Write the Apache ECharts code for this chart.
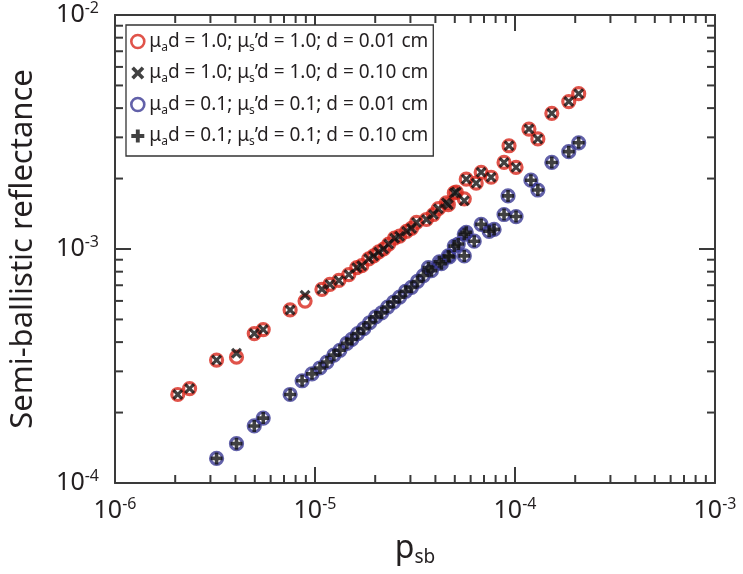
<!DOCTYPE html>
<html><head><meta charset="utf-8">
<script src="https://cdn.jsdelivr.net/npm/echarts@6/dist/echarts.min.js"></script>
<style>html,body{margin:0;padding:0;background:#fff}#c{width:743px;height:574px}</style>
</head><body><div id="c"></div>
<script>
// ---- data ----
const xExponents = [-6, -5, -4, -3];
const yExponents = [-4, -3, -2];
const xMinorTicks = [2e-6,3e-6,4e-6,5e-6,6e-6,7e-6,8e-6,9e-6,2e-5,3e-5,4e-5,5e-5,6e-5,7e-5,8e-5,9e-5,2e-4,3e-4,4e-4,5e-4,6e-4,7e-4,8e-4,9e-4];
const yMinorTicks = [2e-4,3e-4,4e-4,5e-4,6e-4,7e-4,8e-4,9e-4,2e-3,3e-3,4e-3,5e-3,6e-3,7e-3,8e-3,9e-3];

const muaD = ['1.0', '1.0', '0.1', '0.1'];
const musD = ['1.0', '1.0', '0.1', '0.1'];
const thick = ['0.01', '0.10', '0.01', '0.10'];

const highX = [2.06e-6, 2.36e-6, 3.22e-6, 4.05e-6, 4.97e-6, 5.51e-6, 7.51e-6, 8.92e-6, 1.083e-5, 1.187e-5, 1.317e-5, 1.476e-5, 1.618e-5, 1.713e-5, 1.856e-5, 1.965e-5, 2.082e-5, 2.204e-5, 2.335e-5, 2.500e-5, 2.648e-5, 2.869e-5, 3.038e-5, 3.217e-5, 3.608e-5, 3.909e-5, 4.140e-5, 4.537e-5, 4.642e-5, 4.972e-5, 5.087e-5, 5.577e-5, 5.706e-5, 6.397e-5, 6.773e-5, 7.596e-5, 8.815e-5, 9.335e-5, 1.012e-4, 1.174e-4, 1.301e-4, 1.528e-4, 1.857e-4, 2.082e-4];
const highThinY = [2.389e-4, 2.532e-4, 3.351e-4, 3.450e-4, 4.352e-4, 4.524e-4, 5.489e-4, 5.989e-4, 6.725e-4, 7.058e-4, 7.337e-4, 7.778e-4, 8.323e-4, 8.485e-4, 9.078e-4, 9.345e-4, 9.714e-4, 1.000e-3, 1.050e-3, 1.112e-3, 1.134e-3, 1.190e-3, 1.225e-3, 1.299e-3, 1.337e-3, 1.404e-3, 1.487e-3, 1.576e-3, 1.546e-3, 1.736e-3, 1.752e-3, 1.638e-3, 1.988e-3, 1.912e-3, 2.127e-3, 2.026e-3, 2.343e-3, 2.762e-3, 2.233e-3, 3.255e-3, 2.955e-3, 3.800e-3, 4.268e-3, 4.612e-3];
const highThickY = [2.389e-4, 2.532e-4, 3.351e-4, 3.586e-4, 4.352e-4, 4.524e-4, 5.489e-4, 6.347e-4, 6.725e-4, 7.058e-4, 7.337e-4, 7.778e-4, 8.323e-4, 8.485e-4, 9.078e-4, 9.345e-4, 9.714e-4, 1.000e-3, 1.050e-3, 1.112e-3, 1.134e-3, 1.190e-3, 1.225e-3, 1.299e-3, 1.337e-3, 1.404e-3, 1.487e-3, 1.576e-3, 1.546e-3, 1.736e-3, 1.752e-3, 1.607e-3, 1.988e-3, 1.912e-3, 2.127e-3, 2.026e-3, 2.343e-3, 2.762e-3, 2.233e-3, 3.255e-3, 2.955e-3, 3.800e-3, 4.268e-3, 4.612e-3];

const lowX = [3.22e-6, 4.05e-6, 4.97e-6, 5.51e-6, 7.51e-6, 8.62e-6, 9.66e-6, 1.059e-5, 1.147e-5, 1.243e-5, 1.332e-5, 1.443e-5, 1.528e-5, 1.636e-5, 1.753e-5, 1.877e-5, 2.011e-5, 2.154e-5, 2.308e-5, 2.472e-5, 2.648e-5, 2.836e-5, 3.038e-5, 3.254e-5, 3.486e-5, 3.692e-5, 3.821e-5, 4.188e-5, 4.284e-5, 4.642e-5, 4.695e-5, 4.972e-5, 5.205e-5, 5.577e-5, 5.577e-5, 5.706e-5, 6.252e-5, 6.773e-5, 7.423e-5, 7.861e-5, 8.815e-5, 9.230e-5, 1.012e-4, 1.201e-4, 1.301e-4, 1.528e-4, 1.857e-4, 2.082e-4];
const lowThinY = [1.274e-4, 1.473e-4, 1.753e-4, 1.894e-4, 2.389e-4, 2.735e-4, 2.927e-4, 3.101e-4, 3.287e-4, 3.518e-4, 3.692e-4, 3.951e-4, 4.107e-4, 4.352e-4, 4.567e-4, 4.840e-4, 5.129e-4, 5.332e-4, 5.650e-4, 5.932e-4, 6.226e-4, 6.597e-4, 6.858e-4, 7.266e-4, 7.702e-4, 8.323e-4, 8.082e-4, 8.818e-4, 8.650e-4, 9.345e-4, 9.256e-4, 1.029e-3, 1.050e-3, 9.345e-4, 1.156e-3, 1.179e-3, 1.080e-3, 1.274e-3, 1.190e-3, 1.213e-3, 1.404e-3, 1.686e-3, 1.376e-3, 1.968e-3, 1.787e-3, 2.343e-3, 2.606e-3, 2.843e-3];
const lowThickY = lowThinY.slice();

// ---- styles ----
const F = 'Noto Sans';
const TXT = '#231f20';
const AX = '#3a3a3a';
const RED = '#d8281d';
const BLUE = '#3b3a94';
const PLUS = 'path://M3.5,0H6.5V3.5H10V6.5H6.5V10H3.5V6.5H0V3.5H3.5Z';
const CROSS = 'path://M0,2L2,0L5,3L8,0L10,2L7,5L10,8L8,10L5,7L2,10L0,8L3,5Z';
const X_MIN = 1e-6, X_MAX = 1e-3, Y_MIN = 1e-4, Y_MAX = 1e-2;

const names = muaD.map((m, i) => 'mua ' + m + ' mus ' + musD[i] + ' d ' + thick[i]);
function legendText(i) {
  return '{t|\u03bc}{s|a}{t|d = ' + muaD[i] + '; \u03bc}{s|s}{t|\u2019d = ' + musD[i] + '; d = ' + thick[i] + ' cm}';
}
const zip = (a, b) => a.map((v, i) => [v, b[i]]);
function expLabel(list) {
  return function (v) {
    const e = Math.round(Math.log10(v));
    const k = list.indexOf(e);
    return k < 0 ? '' : '{b|10}{s|' + list[k] + '}';
  };
}
const labelRich = {
  b: { fontFamily: F, fontSize: 25, color: TXT, lineHeight: 30 },
  s: { fontFamily: F, fontSize: 16, color: TXT, lineHeight: 16, verticalAlign: 'top' }
};
const tickStyle = { stroke: AX, lineWidth: 2 };
function minorSeries(values, dir) {
  return {
    type: 'custom', silent: true, z: 4, clip: false,
    data: values.map(v => dir === 'x' ? [v, Y_MIN] : [X_MIN, v]),
    renderItem: function (params, api) {
      const cs = params.coordSys;
      const p = api.coord([api.value(0), api.value(1)]);
      const L = 8;
      if (dir === 'x') {
        return { type: 'group', children: [
          { type: 'line', shape: { x1: p[0], y1: cs.y + cs.height, x2: p[0], y2: cs.y + cs.height - L }, style: tickStyle },
          { type: 'line', shape: { x1: p[0], y1: cs.y, x2: p[0], y2: cs.y + L }, style: tickStyle }
        ] };
      }
      return { type: 'group', children: [
        { type: 'line', shape: { x1: cs.x, y1: p[1], x2: cs.x + L, y2: p[1] }, style: tickStyle },
        { type: 'line', shape: { x1: cs.x + cs.width, y1: p[1], x2: cs.x + cs.width - L, y2: p[1] }, style: tickStyle }
      ] };
    }
  };
}
const axisCommon = {
  type: 'log', logBase: 10, interval: 1, splitLine: { show: false },
  axisLine: { show: true, lineStyle: { color: AX, width: 2 } },
  axisTick: { show: true, inside: true, length: 16, lineStyle: { color: AX, width: 2 } }
};

const chart = echarts.init(document.getElementById('c'), null, { renderer: 'canvas' });
chart.setOption({
  animation: false,
  backgroundColor: '#fff',
  grid: { left: 112, right: 28, top: 7, bottom: 91, containLabel: false },
  xAxis: [
    Object.assign({}, axisCommon, {
      min: X_MIN, max: X_MAX, position: 'bottom',
      axisLabel: { margin: 13, formatter: expLabel(xExponents), rich: labelRich },
      name: '{p|p}{q|sb}', nameLocation: 'middle', nameGap: 48,
      nameTextStyle: { rich: {
        p: { fontFamily: F, fontSize: 32, color: TXT, lineHeight: 36 },
        q: { fontFamily: F, fontSize: 19, color: TXT, lineHeight: 19, verticalAlign: 'bottom' }
      } }
    }),
    Object.assign({}, axisCommon, { min: X_MIN, max: X_MAX, position: 'top', axisLabel: { show: false } })
  ],
  yAxis: [
    Object.assign({}, axisCommon, {
      min: Y_MIN, max: Y_MAX, position: 'left',
      axisLabel: { margin: 16, formatter: expLabel(yExponents), rich: labelRich },
      name: 'Semi-ballistic reflectance', nameLocation: 'middle', nameGap: 76, nameRotate: 90,
      nameTextStyle: { fontFamily: F, fontSize: 31, color: TXT }
    }),
    Object.assign({}, axisCommon, { min: Y_MIN, max: Y_MAX, position: 'right', axisLabel: { show: false } })
  ],
  legend: {
    data: [
      { name: names[0], icon: 'circle', itemStyle: { color: 'rgba(255,255,255,0)', borderColor: RED, borderWidth: 2.6 } },
      { name: names[1], icon: CROSS, itemStyle: { color: '#111' } },
      { name: names[2], icon: 'circle', itemStyle: { color: 'rgba(255,255,255,0)', borderColor: BLUE, borderWidth: 2.6 } },
      { name: names[3], icon: PLUS, itemStyle: { color: '#111' } }
    ],
    orient: 'vertical', left: 126, top: 25,
    padding: [7, 5, 8, 4], itemGap: 10, itemWidth: 13, itemHeight: 13, itemTextGap: 15,
    backgroundColor: '#fff', borderColor: '#333', borderWidth: 1.3, borderRadius: 0,
    selectedMode: false,
    formatter: function (name) { return legendText(names.indexOf(name)); },
    textStyle: { rich: {
      t: { fontFamily: F, fontSize: 19, color: TXT, lineHeight: 24 },
      s: { fontFamily: F, fontSize: 12, color: TXT, lineHeight: 12, verticalAlign: 'bottom' }
    } }
  },
  series: [
    { name: names[0], type: 'scatter', data: zip(highX, highThinY), symbol: 'circle', symbolSize: 12, z: 2,
      itemStyle: { color: 'rgba(255,255,255,0)', borderColor: RED, borderWidth: 3.2 } },
    { name: names[1], type: 'scatter', data: zip(highX, highThickY), symbol: CROSS, symbolSize: 11, z: 3,
      itemStyle: { color: '#111' } },
    { name: names[2], type: 'scatter', data: zip(lowX, lowThinY), symbol: 'circle', symbolSize: 12, z: 2,
      itemStyle: { color: 'rgba(255,255,255,0)', borderColor: BLUE, borderWidth: 3.2 } },
    { name: names[3], type: 'scatter', data: zip(lowX, lowThickY), symbol: PLUS, symbolSize: 12, z: 3,
      itemStyle: { color: '#111' } },
    minorSeries(xMinorTicks, 'x'),
    minorSeries(yMinorTicks, 'y')
  ]
});
</script>
</body></html>
